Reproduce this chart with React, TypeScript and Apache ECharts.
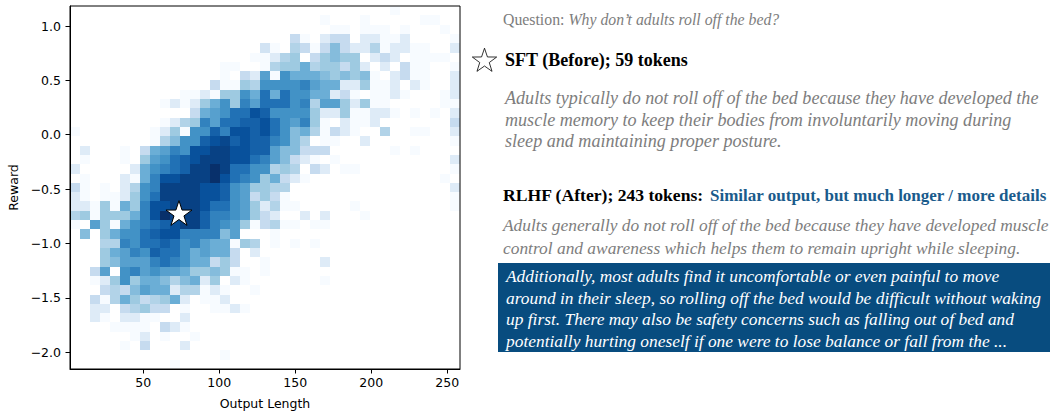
import React, { useEffect, useRef } from "react";
import * as echarts from "echarts";

// ---- Axis ranges and ticks ----
const xMin = 1.8;
const xMax = 258.4;
const yMin = -2.155;
const yMax = 1.184;
const xTicks = [50, 100, 150, 200, 250];
const yTicks = [-2.0, -1.5, -1.0, -0.5, 0.0, 0.5, 1.0];

// ---- 2D histogram: 39 x-bins by 39 y-bins, rows from top (high reward) to bottom ----
// values are colour levels on the Blues scale (0 = empty bin)
const density: number[][] = [
  [0,0,0,0,0,0,0,0,0,0, 0,0,0,0,0,0,0,0,0,0, 0,0,0,0,0,0,0,0,0,0, 0,0,1,0,0,0,0,0,0],
  [0,0,0,0,0,0,0,0,0,0, 0,0,0,0,0,0,0,0,0,0, 0,0,0,0,0,1,0,0,0,1, 0,0,0,0,0,1,1,0,0],
  [0,0,0,0,0,0,0,0,0,0, 0,0,0,0,0,0,0,0,0,0, 0,0,0,0,0,0,1,1,0,1, 1,1,0,1,0,0,0,1,0],
  [0,0,0,0,0,0,0,0,0,0, 0,0,0,0,0,0,0,0,0,0, 0,0,3,1,0,2,3,3,0,2, 2,1,1,2,0,0,0,0,1],
  [0,0,0,0,0,0,0,0,0,0, 0,0,0,0,0,0,0,0,0,2.5, 1,0,3.5,3,1,3,4.5,3,2,2, 3.5,1,2,2,1,1,0,0,2],
  [0,0,0,0,0,0,0,0,0,0, 0,0,0,0,0,0,0,0,1,1, 2,3.5,4,0,3,4,4.5,4,4,0, 2,3,2,0,1,1,1,1,0],
  [0,0,0,0,0,0,0,0,0,0, 0,0,0,0,0,1,1,0,0,1, 3.5,4,4,5,3.5,4,4,3,4,2, 0,2,0,3,1,1,0,0,1],
  [0,0,0,0,0,0,0,0,0,0, 0,0,0,0,0,1,0,3,2,5.5, 1,6,5,5,5,4.5,4,4.5,4,4.5, 1,0,2,3,1,1,0,0,2],
  [0,0,0,0,0,0,0,0,0,0, 0,0,0,0,3,1,1,4,3.5,6, 6,6,6,6.5,5.5,5,5,2,2,4, 1,1,2,0,2,1,0,0,2],
  [0,0,0,0,0,0,0,0,0,0, 0,1,1,2,1,4,4,6,5,7, 5,7,6,6,5,5,2,3,1,0, 1,1,2,1,0,0,0,1,2],
  [0,0,0,0,0,0,0,0,0,1, 2,1,2,4,5,6,4,6.5,5.5,7, 7,7,6,6.5,3.5,5.5,5.5,4,2,4, 1,1,0,0,0,0,0,1,1],
  [0,0,0,0,0,0,0,0,0,0, 0,0,3,5,5.5,6,7,7,8,7.5, 6,6,6,6,4,2,2,4,1,1, 2,2,1,0,1,0,1,0,2],
  [0,0,0,0,0,0,0,0,0,1, 2,3.5,4,6.5,5.5,7,7,7.5,7.5,8, 7,6,5.5,6.5,4,1,0,2,1,1, 2,0,0,0,0,0,0,0,3],
  [1,0,0,0,0,0,0,0,1,2, 4,1,6,6,7.5,6.5,8,8,7.5,8, 7,6,4.5,5,3.5,1,3,2,1,0, 0,3.5,0,0,1,1,0,0,2],
  [0,0,0,0,0,0,0,0,1,3.5, 4.5,6,6,7.5,8,8.3,7.5,8,7.5,7.5, 6.5,6,4.5,3.5,0,1,1,0,0,2, 0,0,0,0,0,0,0,0,1],
  [0,2,0,0,0,1,0,3,5,5.5, 6.5,6,8,8,8.5,8.5,8,8,7.5,7.5, 5.5,4.5,4.5,3,3,3,0,0,0,0, 0,0,1,0,1,0,0,0,0],
  [0,1,0,0,0,1,0,4,5.5,6, 7,7.5,8,8.5,8.5,8.5,8,8,7,6.5, 5.5,4.5,3,2,1,0,1,0,0,0, 0,0,0,0,0,0,0,0,2],
  [2,0,0,0,0,0,2,5,6,6.5, 7,7.5,8.5,8.5,9,8.5,7,7,6,6, 3.5,4,3.5,0,3,2,0,1,1,0, 0,0,0,0,0,0,0,0,1],
  [0,1,0,0,0,2,1,5,6.5,8, 8,8.5,8.5,8.5,9,8,7,6.5,6,4, 5,3,2,1,0,0,0,0,0,0, 0,0,0,0,0,0,0,1,0],
  [3,1,0,1,0,2,3.5,6,6.5,8.5, 8.5,8.5,8.5,8,8,7.5,6,5.5,4,4, 3.5,3.5,0,0,0,0,0,0,0,0, 0,0,0,0,0,0,0,0,2],
  [2,1,0,1,1,2,4,6,7,8.5, 8.5,8.5,8.5,8,8,7.5,6,5.5,3,4, 3,1,0,0,0,0,0,0,0,0, 0,0,0,0,0,0,0,0,1],
  [2,2,1,4,1,5,4,6.5,8,8, 8.5,8.5,8.5,8,7,7,6,5.5,4,2, 3.5,1,1,0,0,0,0,0,1,0, 0,0,0,0,0,0,0,0,1],
  [3.5,4,1,4,4,4,5,6.5,8,9, 8.5,8.5,8.5,7.5,6.5,6.5,6,5.5,4,3, 2,0,0,2,0,2,0,0,0,1, 0,0,0,0,0,0,0,0,0],
  [1,0,5.5,4,1,5,6,6.5,7,7.5, 8,8.5,8.5,7.5,6.5,6,5.5,4,1,3, 3.5,1,1,0,1,1,0,0,0,0, 0,0,0,0,0,0,0,0,0],
  [0,4.5,0,4,5,6,6,7,7.5,8, 8,6.5,6.5,6.5,6.5,4.5,5.5,0,0,0, 1,0,0,0,0,0,0,0,0,0, 0,0,0,0,0,0,0,0,0],
  [0,0,0,3.5,3.5,6.5,6,7,7,7.5, 7,6,6.5,5.5,5,5,1,4,3.5,0, 1,0,1,0,1,0,0,0,0,0, 0,0,0,0,0,0,0,0,0],
  [0,0,0,4,5,5.5,6.5,6,7.5,7, 7,6,5,5.5,5,5,3,0,2,0, 0,0,0,0,0,0,0,0,0,0, 0,0,0,0,0,0,0,0,0],
  [0,0,0,4,4.5,5.5,5.5,5.5,6.5,7, 6.5,6,5,5,3,4,3,0,0,1, 0,0,0,0,0,2,0,0,0,0, 0,0,0,0,0,0,0,0,0],
  [0,0,3,5.5,0,6,6.5,5.5,6,5.5, 5.5,5,4,4,4.5,4,1,1,0,1, 0,0,0,0,0,0,0,0,0,0, 0,0,0,0,0,0,0,0,0],
  [0,0,1,2,4,6,4,5,5,4.5, 3.5,4.5,5,2,4,0,2,1,0,0, 0,0,0,0,0,1,0,0,0,0, 0,0,0,0,0,0,0,0,0],
  [0,0,0,3,3.5,3,4.5,5.5,5,5, 2,3.5,3.5,1,2,1,0,0,1,0, 0,0,0,0,0,0,0,0,0,0, 0,0,0,0,0,0,0,0,0],
  [0,0,3,1,3.5,5,4,3,3.5,4, 5,2,0,1,1,2,0,0,0,0, 0,0,0,0,0,0,0,0,0,0, 0,0,0,0,0,0,0,0,0],
  [0,0,2,2,0,3,3.5,4,3,3, 0,1,0,0,1,1,2,1,0,0, 0,0,0,0,0,0,0,0,0,0, 0,0,0,0,0,0,0,0,0],
  [0,0,2,1,0,2,2,1,1,0, 0,2,0,0,0,0,0,0,0,0, 0,0,0,0,0,0,0,0,0,0, 0,0,0,0,0,0,0,0,0],
  [0,0,0,0,1,1,1,1,0,3, 2,1,0,0,0,0,0,0,0,0, 0,0,0,0,0,0,0,0,0,0, 0,0,0,0,0,0,0,0,0],
  [0,0,0,0,0,0,1,2,0,1, 0,0,1,0,0,0,0,0,0,0, 0,0,0,0,0,0,0,0,0,0, 0,0,0,0,0,0,0,0,0],
  [0,0,0,0,0,1,0,3,0,0, 0,2,0,0,0,0,0,0,0,0, 0,0,0,0,0,0,0,0,0,0, 0,0,0,0,0,0,0,0,0],
  [0,0,0,0,0,0,0,0,0,0, 0,0,0,0,0,1,0,0,0,0, 0,0,0,0,0,0,0,0,0,0, 0,0,0,0,0,0,0,0,0],
  [0,0,0,0,0,0,0,0,0,0, 1,0,0,0,0,0,0,0,0,0, 0,0,0,0,0,0,0,0,0,0, 0,0,0,0,0,0,0,0,0],
];

// SFT sample marked with a star
const sftPoint = [73.5, -0.72];

// ---- Texts ----
const questionLabel = "Question: ";
const questionText = "Why don\u2019t adults roll off the bed?";
const sftTitle = "SFT (Before); 59 tokens";
const sftLines = [
  "Adults typically do not roll off of the bed because they have developed the",
  "muscle memory to keep their bodies from involuntarily moving during",
  "sleep and maintaining proper posture.",
];
const rlhfTitle = "RLHF (After); 243 tokens:";
const rlhfNote = "Similar output, but much longer / more details";
const rlhfLines = [
  "Adults generally do not roll off of the bed because they have developed muscle",
  "control and awareness which helps them to remain upright while sleeping.",
];
const rlhfExtraLines = [
  "Additionally, most adults find it uncomfortable or even painful to move",
  "around in their sleep, so rolling off the bed would be difficult without waking",
  "up first. There may also be safety concerns such as falling out of bed and",
  "potentially hurting oneself if one were to lose balance or fall from the ...",
];

const blues = ["#f7fbff", "#deebf7", "#c6dbef", "#9ecae1", "#6baed6", "#4292c6", "#2171b5", "#08519c", "#08306b"];

const STAR_PATH =
  "path://M50 0 L61.23 34.55 L97.55 34.55 L68.17 55.9 L79.39 90.45 L50 69.1 L20.61 90.45 L31.83 55.9 L2.45 34.55 L38.77 34.55 Z";

function starPoints(cx: number, cy: number, R: number, r: number): number[][] {
  const pts: number[][] = [];
  for (let i = 0; i < 10; i++) {
    const a = -Math.PI / 2 + (i * Math.PI) / 5;
    const rad = i % 2 === 0 ? R : r;
    pts.push([cx + rad * Math.cos(a), cy + rad * Math.sin(a)]);
  }
  return pts;
}

const SERIF = '"Liberation Serif", "Times New Roman", serif';
const SANS = '"DejaVu Sans", sans-serif';

export default function App() {
  const ref = useRef<HTMLDivElement>(null);

  useEffect(() => {
    document.body.style.margin = "0";
    if (!ref.current) return;
    const chart = echarts.init(ref.current, undefined, { renderer: "svg" });

    const nx = density[0].length;
    const ny = density.length;
    const dx = (xMax - xMin) / nx;
    const dy = (yMax - yMin) / ny;
    const cells: number[][] = [];
    density.forEach((row, r) => {
      row.forEach((v, c) => {
        if (v > 0) {
          const x0 = xMin + c * dx;
          const yTop = yMax - r * dy;
          cells.push([x0, x0 + dx, yTop - dy, yTop, v]);
        }
      });
    });

    const fmtY = (v: number) => v.toFixed(1).replace("-", "\u2212");

    const gray = "#7d7d7d";
    const graphics: any[] = [
      {
        type: "text",
        x: 503,
        y: 19,
        style: {
          text: `{a|${questionLabel}}{b|${questionText}}`,
          verticalAlign: "middle",
          rich: {
            a: { fontFamily: SERIF, fontSize: 15.8, fill: gray, color: gray },
            b: { fontFamily: SERIF, fontSize: 15.8, fontStyle: "italic", fill: gray, color: gray },
          },
        },
      },
      {
        type: "polygon",
        shape: { points: starPoints(484.5, 61, 12.8, 5.0) },
        style: { fill: "#fff", stroke: "#000", lineWidth: 0.8 },
      },
      {
        type: "text",
        x: 505,
        y: 60,
        style: {
          text: sftTitle,
          fontFamily: SERIF,
          fontSize: 18,
          fontWeight: "bold",
          fill: "#000",
          verticalAlign: "middle",
        },
      },
      {
        type: "text",
        x: 505,
        y: 98 - 10.75,
        style: {
          text: sftLines.join("\n"),
          fontFamily: SERIF,
          fontSize: 18.1,
          fontStyle: "italic",
          lineHeight: 21.5,
          fill: gray,
          verticalAlign: "top",
        },
      },
      {
        type: "text",
        x: 503,
        y: 195,
        style: {
          text: rlhfTitle,
          fontFamily: SERIF,
          fontSize: 17.6,
          fontWeight: "bold",
          fill: "#000",
          verticalAlign: "middle",
        },
      },
      {
        type: "text",
        x: 710,
        y: 195,
        style: {
          text: rlhfNote,
          fontFamily: SERIF,
          fontSize: 17,
          fontWeight: "bold",
          fill: "#1a5b8c",
          verticalAlign: "middle",
        },
      },
      {
        type: "text",
        x: 503,
        y: 224 - 11,
        style: {
          text: rlhfLines.join("\n"),
          fontFamily: SERIF,
          fontSize: 17.4,
          fontStyle: "italic",
          lineHeight: 23,
          fill: gray,
          verticalAlign: "top",
        },
      },
      {
        type: "rect",
        shape: { x: 498, y: 263, width: 552, height: 89 },
        style: { fill: "#084c7f" },
      },
      {
        type: "text",
        x: 506,
        y: 276 - 10.75,
        style: {
          text: rlhfExtraLines.join("\n"),
          fontFamily: SERIF,
          fontSize: 17.4,
          fontStyle: "italic",
          lineHeight: 21.5,
          fill: "#ffffff",
          verticalAlign: "top",
        },
      },
    ];

    const option: any = {
      animation: false,
      backgroundColor: "#ffffff",
      grid: {
        left: 70,
        top: 6,
        width: 390,
        height: 363,
        show: true,
        z: 10,
        borderColor: "#000",
        borderWidth: 1,
        backgroundColor: "transparent",
        outerBoundsMode: "none",
      },
      xAxis: {
        type: "value",
        min: xMin,
        max: xMax,
        z: 10,
        splitLine: { show: false },
        axisLine: { show: true, onZero: false, lineStyle: { color: "#000", width: 1 } },
        axisTick: { show: true, length: 4.5, customValues: xTicks, lineStyle: { color: "#000" } },
        axisLabel: {
          customValues: xTicks,
          color: "#000",
          fontFamily: SANS,
          fontSize: 12.5,
          margin: 7,
        },
        name: "Output Length",
        nameLocation: "middle",
        nameGap: 28,
        nameTextStyle: { color: "#000", fontFamily: SANS, fontSize: 12.5 },
      },
      yAxis: {
        type: "value",
        min: yMin,
        max: yMax,
        z: 10,
        splitLine: { show: false },
        axisLine: { show: true, onZero: false, lineStyle: { color: "#000", width: 1 } },
        axisTick: { show: true, length: 4.5, customValues: yTicks, lineStyle: { color: "#000" } },
        axisLabel: {
          customValues: yTicks,
          color: "#000",
          fontFamily: SANS,
          fontSize: 12.5,
          margin: 9,
          formatter: (v: number) => fmtY(v),
        },
        name: "Reward",
        nameLocation: "middle",
        nameGap: 50,
        nameRotate: 90,
        nameTextStyle: { color: "#000", fontFamily: SANS, fontSize: 12.5 },
      },
      visualMap: {
        type: "continuous",
        show: false,
        seriesIndex: 0,
        dimension: 4,
        min: 1,
        max: 9,
        inRange: { color: blues },
      },
      series: [
        {
          type: "custom",
          coordinateSystem: "cartesian2d",
          encode: { x: [0, 1], y: [2, 3] },
          data: cells,
          z: 2,
          renderItem: (_params: any, api: any) => {
            const p0 = api.coord([api.value(0), api.value(3)]);
            const p1 = api.coord([api.value(1), api.value(2)]);
            const x = Math.round(p0[0]);
            const y = Math.round(p0[1]);
            const x2 = Math.round(p1[0]);
            const y2 = Math.round(p1[1]);
            return {
              type: "rect",
              shape: { x, y, width: x2 - x, height: y2 - y },
              style: { fill: api.visual("color") },
            };
          },
        },
        {
          type: "scatter",
          data: [sftPoint],
          symbol: STAR_PATH,
          symbolKeepAspect: true,
          symbolSize: 26,
          z: 5,
          itemStyle: { color: "#ffffff", borderColor: "#000", borderWidth: 1, opacity: 1 },
        },
      ],
      graphic: graphics,
    };

    chart.setOption(option);
    return () => chart.dispose();
  }, []);

  return <div ref={ref} style={{ width: 1052, height: 412 }} />;
}
